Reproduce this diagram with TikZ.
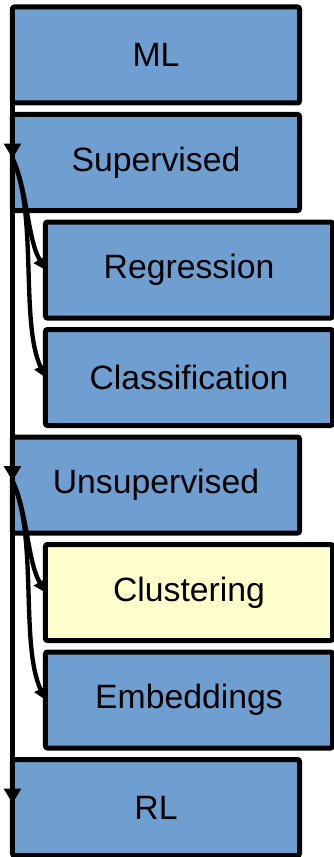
\documentclass[tikz,border=0pt]{standalone}
\usepackage{fontspec}
\setmainfont{Liberation Sans}
\usepackage{tikz}
\usetikzlibrary{arrows.meta,positioning}
\definecolor{MLblue}{HTML}{6F9FD1}
\definecolor{MLyellow}{HTML}{FFFFCC}
\tikzset{
  tax/box/.style={draw, line width=1.5mm, rounded corners=0.6mm, fill=MLblue, outer sep=0pt,
    minimum width=86.1mm, minimum height=28.8mm, font=\fontsize{28.8}{34}\selectfont},
  tax/mark/.style={tax/box, fill=MLyellow},
  tax/trunk/.style={line width=1.5mm, -{Triangle[length=4.5mm,width=5mm]}},
  tax/branch/.style={line width=1.3mm, -{Triangle[length=3.6mm,width=3.9mm]}}
}

\begin{document}
\begin{tikzpicture}[x=0.3mm, y=-0.3mm, node distance=3.45mm]
\useasboundingbox (0,0) rectangle (333,857);
\node[tax/box] (ml) at (156,55) {ML};
\node[tax/box, below=of ml] (sup) {Supervised};
\node[tax/box, below=of sup, xshift=9.9mm] (reg) {Regression};
\node[tax/box, below=of reg] (cls) {Classification};
\node[tax/box, below=of cls, xshift=-9.9mm] (uns) {Unsupervised};
\node[tax/mark, below=of uns, xshift=9.9mm] (clu) {Clustering};
\node[tax/box, below=of clu] (emb) {Embeddings};
\node[tax/box, below=of emb, xshift=-9.9mm] (rl) {RL};

% trunk
\draw[tax/trunk] (ml.north west) -- ([yshift=1.2mm]sup.west);
\draw[tax/trunk] (ml.north west) -- ([yshift=1.2mm]uns.west);
\draw[tax/trunk] (ml.north west) -- ([yshift=1.2mm]rl.west);

% branches
\draw[tax/branch] ([yshift=1.2mm]sup.west) to[out=-65, in=120, looseness=0.8] (reg.west);
\draw[tax/branch] ([yshift=1.2mm]sup.west) to[out=-65, in=115, looseness=0.7] (cls.west);
\draw[tax/branch] ([yshift=1.2mm]uns.west) to[out=-65, in=120, looseness=0.8] (clu.west);
\draw[tax/branch] ([yshift=1.2mm]uns.west) to[out=-65, in=115, looseness=0.7] (emb.west);
\end{tikzpicture}
\end{document}
